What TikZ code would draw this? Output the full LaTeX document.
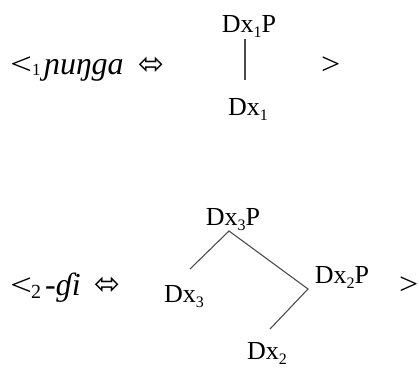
\documentclass[tikz,border=0pt]{standalone}
\usepackage{fontspec}
\setmainfont{Liberation Serif}
\newfontfamily\symf{DejaVu Sans}
\newcommand{\sbs}[1]{\raisebox{-0.2em}{\fontsize{16}{16}\selectfont #1}}
\begin{document}
\begin{tikzpicture}[x=1pt,y=-1pt,
  lab/.style={inner sep=0pt, anchor=base, font=\fontsize{26}{30}\selectfont},
  big/.style={inner sep=0pt, anchor=base west, font=\fontsize{32}{36}\selectfont},
  rel/.style={inner sep=0pt, anchor=base west, font=\fontsize{31}{36}\selectfont},
  sub/.style={inner sep=0pt, anchor=base west},
  dar/.style={inner sep=0pt, anchor=center, font=\fontsize{31}{34}\selectfont\symf},
  br/.style={draw=black!70, line width=1.1pt}]
\useasboundingbox (0,0) rectangle (419,367);
% row 1
\node[rel] (lt1) at (10,74) {\scalebox{1.25}[1]{<}};
\node[sub, font=\fontsize{17}{20}\selectfont] (s1) at (32,75) {1};
\node[big] (w1) at (44,74) {\itshape ɲuŋga};
\node[dar] (a1) at (151,66) {⬄};
\node[rel] (gt1) at (321,74) {\scalebox{1.1}[1]{>}};
\node[lab] (p1) at (249,32) {Dx\sbs{1}P};
\node[lab] (d1) at (248,115) {Dx\sbs{1}};
\coordinate (t1) at (245,39);
\coordinate (b1) at (245,80);
\draw[br] (t1) -- (b1);
% row 2
\node[rel] (lt2) at (10,295) {\scalebox{1.25}[1]{<}};
\node[sub, font=\fontsize{20}{24}\selectfont] (s2) at (31,298) {2};
\node[big] (w2) at (45,295) {\itshape -ɠi};
\node[dar] (a2) at (107,286) {⬄};
\node[rel] (gt2) at (399,294) {\scalebox{1.1}[1]{>}};
\node[lab] (p3) at (233,225) {Dx\sbs{3}P};
\node[lab] (d3) at (184,302) {Dx\sbs{3}};
\node[lab] (p2) at (342,283) {Dx\sbs{2}P};
\node[lab] (d2) at (267,359) {Dx\sbs{2}};
\coordinate (apex) at (229,231);
\coordinate (l3) at (190,269);
\coordinate (r2) at (308,289);
\coordinate (l2) at (270,329);
\draw[br] (l3) -- (apex) -- (r2) -- (l2);
\end{tikzpicture}
\end{document}
